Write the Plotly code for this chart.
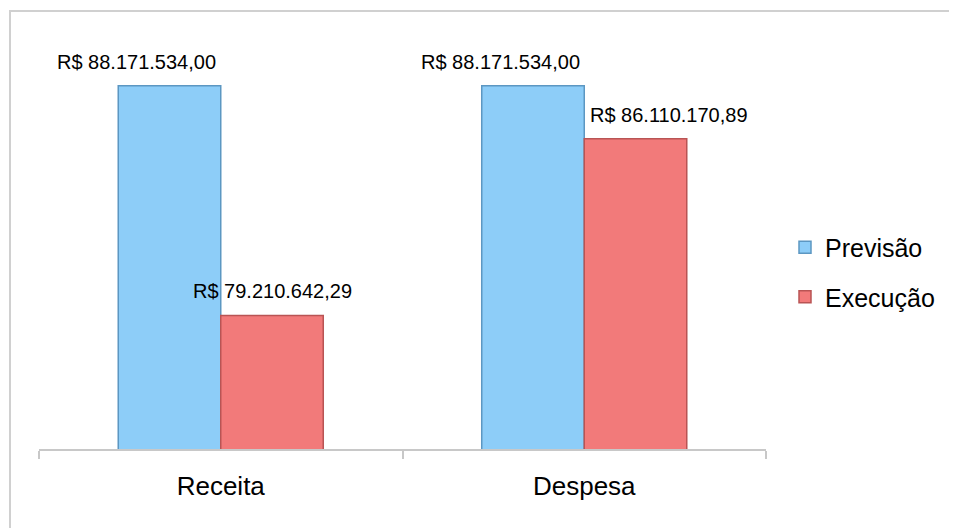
import plotly.graph_objects as go

categories = ["Receita", "Despesa"]
previsao = [88171534.00, 88171534.00]
execucao = [79210642.29, 86110170.89]
series_names = ["Previsão", "Execução"]

def brl(v):
    s = f"{v:,.2f}"
    s = s.replace(",", "X").replace(".", ",").replace("X", ".")
    return "R$ " + s

OFF = 8  # default page body margin
W, H = 957 - OFF, 528 - OFF
ML, MT = 39 - OFF, 39 - OFF
MR = W - (766 - OFF)
MB = H - (449 - OFF)
pw = W - ML - MR
ph = H - MT - MB

def px_x(p):
    return (p - 39) / pw

def px_y(p):
    return (449 - p) / ph

blue = "#8DCDF8"
blue_line = "#5C97C2"
red = "#F27A7A"
red_line = "#B95454"
font_fam = "Liberation Sans, Arial, sans-serif"

fig = go.Figure()
fig.add_trace(go.Bar(
    x=categories, y=previsao, name=series_names[0], legendgroup="a",
    marker=dict(color=blue, line=dict(color=blue_line, width=1.5)),
    hoverinfo="skip",
))
fig.add_trace(go.Bar(
    x=categories, y=execucao, name=series_names[1], legendgroup="b",
    marker=dict(color=red, line=dict(color=red_line, width=1.5)),
    hoverinfo="skip",
))

bargap = 0.436
half = (1 - bargap) / 4.0
label_shift_prev = [-33, -33]
label_shift_exec = [0, 33]

annotations = []
for i, c in enumerate(categories):
    annotations.append(dict(
        x=i - half, y=previsao[i], xref="x", yref="y", text=brl(previsao[i]),
        showarrow=False, xshift=label_shift_prev[i], yshift=24, yanchor="middle",
        font=dict(family=font_fam, size=20, color="#000000")))
    annotations.append(dict(
        x=i + half, y=execucao[i], xref="x", yref="y", text=brl(execucao[i]),
        showarrow=False, xshift=label_shift_exec[i], yshift=24, yanchor="middle",
        font=dict(family=font_fam, size=20, color="#000000")))

fig.update_layout(
    width=W, height=H,
    margin=dict(l=ML, r=MR, t=MT, b=MB),
    paper_bgcolor="white", plot_bgcolor="white",
    barmode="group", bargap=bargap, bargroupgap=0,
    showlegend=True,
    legend=dict(x=px_x(785), y=px_y(272), xanchor="left", yanchor="middle",
                font=dict(family=font_fam, size=25, color="#000000"),
                tracegroupgap=14, bgcolor="rgba(0,0,0,0)"),
    annotations=annotations,
    shapes=[dict(type="rect", xref="paper", yref="paper",
                 x0=px_x(10), x1=px_x(975),
                 y0=px_y(545), y1=px_y(11),
                 line=dict(color="#D0D0D0", width=2), fillcolor="rgba(0,0,0,0)", layer="below")],
    xaxis=dict(showline=True, linecolor="#C8C8C8", linewidth=1.5,
               ticks="outside", tickson="boundaries", ticklen=8, tickcolor="#C8C8C8", tickwidth=1.5,
               tickfont=dict(family=font_fam, size=26, color="#000000"),
               ticklabelstandoff=13, showgrid=False, zeroline=False),
    yaxis=dict(range=[74e6, 90e6], visible=False, showgrid=False, zeroline=False),
)

fig.write_html("out.html")
